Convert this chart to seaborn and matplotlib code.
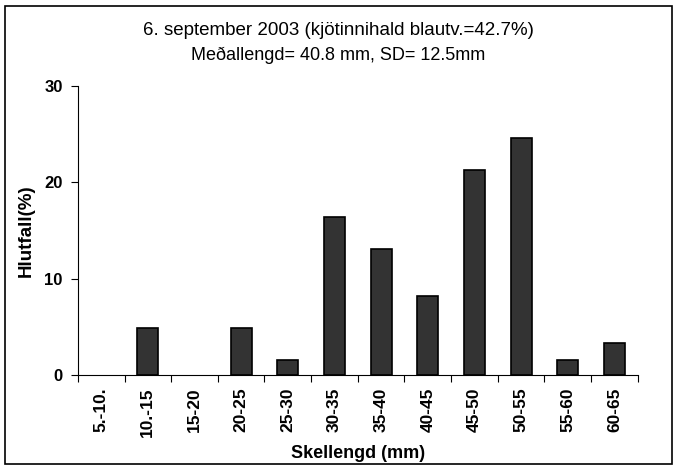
import numpy as np
import matplotlib
matplotlib.use('Agg')
import matplotlib.pyplot as plt
import seaborn as sns
import pandas as pd
from matplotlib.patches import Rectangle

# length classes and share of shells in each (%)
classes = ['5.-10.', '10.-15', '15-20', '20-25', '25-30', '30-35',
           '35-40', '40-45', '45-50', '50-55', '55-60', '60-65']
share = [0, 4.9, 0, 4.9, 1.6, 16.4, 13.1, 8.2, 21.3, 24.6, 1.6, 3.3]

df = pd.DataFrame({'klasi': classes, 'hlutfall': share})

sns.set_style('white')
plt.rcParams['font.family'] = ['Liberation Sans', 'DejaVu Sans']
plt.rcParams['text.color'] = 'black'
plt.rcParams['axes.labelcolor'] = 'black'
plt.rcParams['xtick.color'] = 'black'
plt.rcParams['ytick.color'] = 'black'

fig = plt.figure(figsize=(6.77, 4.70), dpi=100)
ax = fig.add_axes([0.115, 0.202, 0.827, 0.615])

sns.barplot(data=df, x='klasi', y='hlutfall', color='#333333',
            edgecolor='black', linewidth=1.2, width=0.45, saturation=1, ax=ax)

# empty classes get no outline
for p in ax.patches:
    if p.get_height() == 0:
        p.set_linewidth(0)

ax.set_xlim(-0.5, len(classes) - 0.5)
ax.set_ylim(0, 30)
ax.set_yticks([0, 10, 20, 30])
ax.set_yticklabels(['0', '10', '20', '30'], fontsize=12, fontweight='bold')

# excel style: ticks between the categories, labels at the centres
ax.set_xticks(np.arange(-0.5, len(classes), 1.0))
ax.set_xticklabels([])
ax.set_xticks(np.arange(len(classes)), minor=True)
ax.set_xticklabels(classes, minor=True, rotation=90, fontsize=12.5, fontweight='bold')
ax.tick_params(axis='x', which='major', direction='out', length=5, width=0.8, bottom=True)
ax.tick_params(axis='x', which='minor', length=0, pad=9)
ax.tick_params(axis='y', direction='out', length=5, width=0.8, left=True, pad=6)

for s in ['top', 'right']:
    ax.spines[s].set_visible(False)
for s in ['left', 'bottom']:
    ax.spines[s].set_color('black')
    ax.spines[s].set_linewidth(0.8)

ax.set_xlabel('Skellengd (mm)', fontsize=13, fontweight='bold', labelpad=6)
ax.set_ylabel('Hlutfall(%)', fontsize=13.5, fontweight='bold', labelpad=7)

fig.text(0.5, 0.935, '6. september 2003 (kjötinnihald blautv.=42.7%)', ha='center', va='center', fontsize=13.5)
fig.text(0.5, 0.882, 'Meðallengd= 40.8 mm, SD= 12.5mm', ha='center', va='center', fontsize=13)

fig.patches.append(Rectangle((0.008, 0.012), 0.984, 0.976, transform=fig.transFigure,
                             fill=False, edgecolor='black', linewidth=1.2))

fig.savefig('out.png', dpi=100)
